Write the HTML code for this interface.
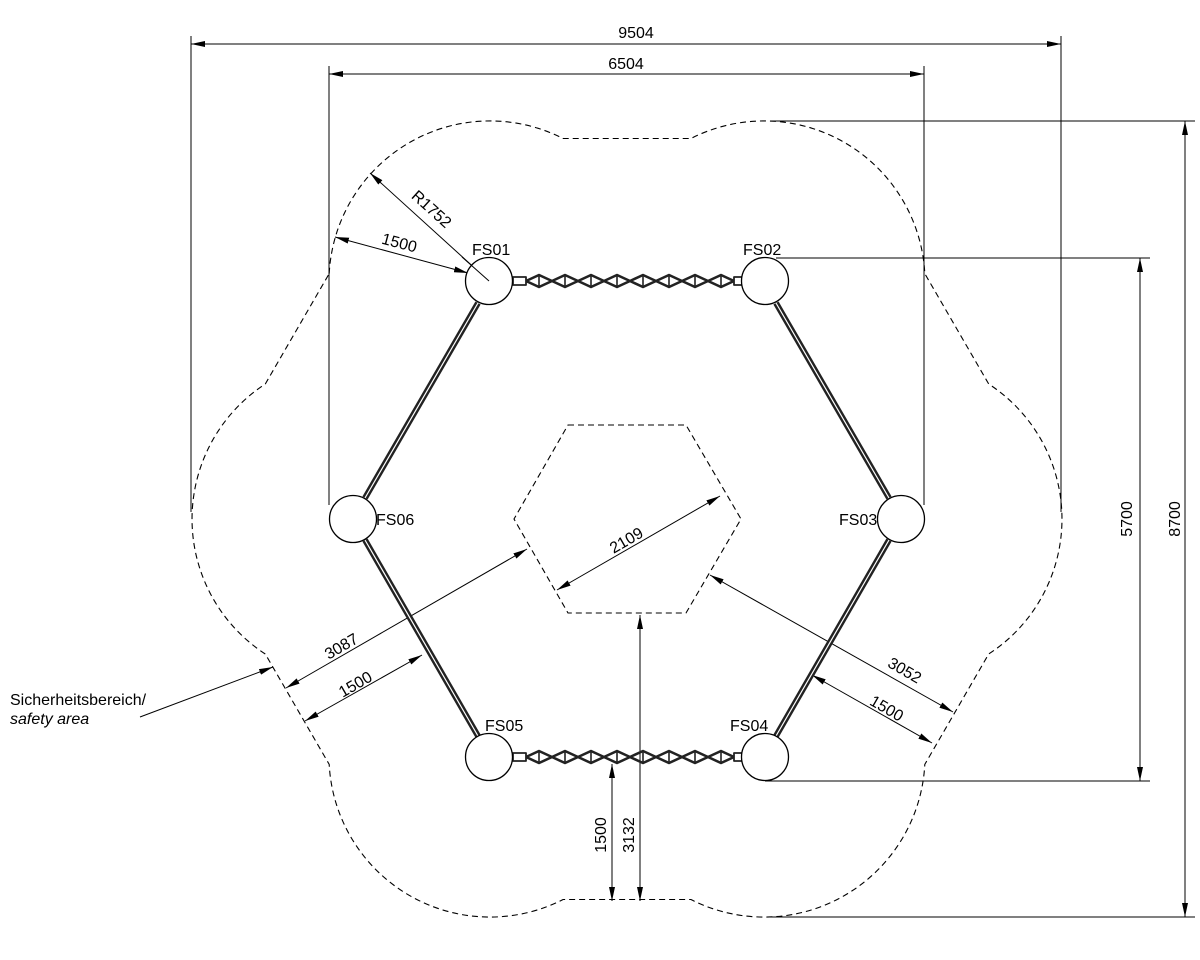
<!DOCTYPE html>
<html><head><meta charset="utf-8"><style>
html,body{margin:0;padding:0;background:#fff;}
svg{display:block;}
text{font-family:"Liberation Sans Narrow","Liberation Sans",sans-serif;font-size:16px;fill:#000;}
</style></head><body>
<svg width="1200" height="960" viewBox="0 0 1200 960" xmlns="http://www.w3.org/2000/svg">
<defs>
<marker id="ar" viewBox="0 0 14 6" refX="14" refY="3" markerWidth="14" markerHeight="6" markerUnits="userSpaceOnUse" orient="auto-start-reverse">
<path d="M0,0 L14,3 L0,6 Z" fill="#000"/>
</marker>
<g id="chain">
<g fill="none" stroke="#222" stroke-width="2.6" stroke-linejoin="round">
<path d="M526,0 L539,-6 L552,0 L565,-6 L578,0 L591,-6 L604,0 L617,-6 L630,0 L643,-6 L656,0 L669,-6 L682,0 L695,-6 L708,0 L721,-6 L734,0"/>
<path d="M526,0 L539,6 L552,0 L565,6 L578,0 L591,6 L604,0 L617,6 L630,0 L643,6 L656,0 L669,6 L682,0 L695,6 L708,0 L721,6 L734,0"/>
<path d="M539,-6V6 M565,-6V6 M591,-6V6 M617,-6V6 M643,-6V6 M669,-6V6 M695,-6V6 M721,-6V6" stroke-width="1.6"/>
<rect x="513" y="-4" width="13" height="8" stroke-width="1.8"/>
<rect x="734" y="-4" width="8" height="8" stroke-width="1.8"/>
</g>
</g>
</defs>

<g stroke="#000" stroke-width="1" fill="none">
<line x1="191" y1="36" x2="191" y2="512"/>
<line x1="1061" y1="36" x2="1061" y2="512"/>
<line x1="329" y1="66" x2="329" y2="505"/>
<line x1="924" y1="66" x2="924" y2="505"/>
<line x1="770" y1="121" x2="1195" y2="121"/>
<line x1="770" y1="917" x2="1195" y2="917"/>
<line x1="776" y1="258" x2="1150" y2="258"/>
<line x1="765" y1="781" x2="1150" y2="781"/>
<line x1="191" y1="44" x2="1061" y2="44" marker-start="url(#ar)" marker-end="url(#ar)"/>
<line x1="329" y1="74" x2="924" y2="74" marker-start="url(#ar)" marker-end="url(#ar)"/>
<line x1="1185" y1="121" x2="1185" y2="917" marker-start="url(#ar)" marker-end="url(#ar)"/>
<line x1="1140" y1="258" x2="1140" y2="781" marker-start="url(#ar)" marker-end="url(#ar)"/>
<line x1="490" y1="282" x2="370" y2="173" marker-end="url(#ar)"/>
<line x1="335" y1="237" x2="468" y2="273" marker-start="url(#ar)" marker-end="url(#ar)"/>
<line x1="557" y1="590" x2="720" y2="496" marker-start="url(#ar)" marker-end="url(#ar)"/>
<line x1="286" y1="688" x2="527" y2="549" marker-start="url(#ar)" marker-end="url(#ar)"/>
<line x1="305" y1="721" x2="422" y2="655" marker-start="url(#ar)" marker-end="url(#ar)"/>
<line x1="710" y1="575" x2="953" y2="712" marker-start="url(#ar)" marker-end="url(#ar)"/>
<line x1="812" y1="675" x2="932" y2="743" marker-start="url(#ar)" marker-end="url(#ar)"/>
<line x1="612" y1="764" x2="612" y2="901" marker-start="url(#ar)" marker-end="url(#ar)"/>
<line x1="640" y1="615" x2="640" y2="901" marker-start="url(#ar)" marker-end="url(#ar)"/>
<line x1="140" y1="717" x2="273" y2="667" marker-end="url(#ar)"/>
</g>

<path d="M329.2,273.6 A161,161 0 0 1 563.1,138.5 L690.9,138.5 A161,161 0 0 1 924.8,273.6 L988.7,384 A161,161 0 0 1 988.7,654 L924.8,764.4 A161,161 0 0 1 690.9,899.5 L563.1,899.5 A161,161 0 0 1 329.2,764.4 L265.3,654 A161,161 0 0 1 265.3,384 Z" fill="none" stroke="#000" stroke-width="1.1" stroke-dasharray="6,4"/>
<path d="M568,425 L686,425 L741,519 L686,613 L568,613 L514,519 Z" fill="none" stroke="#000" stroke-width="1.1" stroke-dasharray="6,4"/>

<g stroke-linecap="butt">
<g stroke="#222" stroke-width="6">
<line x1="478" y1="303" x2="365" y2="498"/>
<line x1="776" y1="303" x2="889" y2="498"/>
<line x1="889" y1="540" x2="776" y2="736"/>
<line x1="365" y1="540" x2="478" y2="736"/>
</g>
<g stroke="#fff" stroke-width="1.2">
<line x1="478" y1="303" x2="365" y2="498"/>
<line x1="776" y1="303" x2="889" y2="498"/>
<line x1="889" y1="540" x2="776" y2="736"/>
<line x1="365" y1="540" x2="478" y2="736"/>
</g>
</g>
<use href="#chain" transform="translate(0,281)"/>
<use href="#chain" transform="translate(0,757)"/>

<g fill="#fff" stroke="#000" stroke-width="1.3">
<circle cx="489" cy="281" r="23.5"/>
<circle cx="765" cy="281" r="23.5"/>
<circle cx="901" cy="519" r="23.5"/>
<circle cx="765" cy="757" r="23.5"/>
<circle cx="489" cy="757" r="23.5"/>
<circle cx="353" cy="519" r="23.5"/>
</g>
<line x1="489" y1="281" x2="462" y2="257" stroke="#000" stroke-width="1"/>

<text x="472" y="255">FS01</text>
<text x="743" y="255">FS02</text>
<text x="839" y="525">FS03</text>
<text x="730" y="731">FS04</text>
<text x="485" y="731">FS05</text>
<text x="376" y="525">FS06</text>
<text x="636" y="38" text-anchor="middle">9504</text>
<text x="626" y="69" text-anchor="middle">6504</text>
<text transform="translate(1132,519) rotate(-90)" text-anchor="middle">5700</text>
<text transform="translate(1180,519) rotate(-90)" text-anchor="middle">8700</text>
<text transform="translate(606,835) rotate(-90)" text-anchor="middle">1500</text>
<text transform="translate(634,835) rotate(-90)" text-anchor="middle">3132</text>
<text transform="translate(428,213) rotate(42)" text-anchor="middle">R1752</text>
<text transform="translate(398,248) rotate(15)" text-anchor="middle">1500</text>
<text transform="translate(629,545) rotate(-30)" text-anchor="middle">2109</text>
<text transform="translate(344,651) rotate(-30)" text-anchor="middle">3087</text>
<text transform="translate(358,689) rotate(-30)" text-anchor="middle">1500</text>
<text transform="translate(902,675) rotate(30)" text-anchor="middle">3052</text>
<text transform="translate(884,713) rotate(30)" text-anchor="middle">1500</text>
<text x="10" y="705">Sicherheitsbereich/</text>
<text x="10" y="724" font-style="italic">safety area</text>
</svg>
</body></html>
